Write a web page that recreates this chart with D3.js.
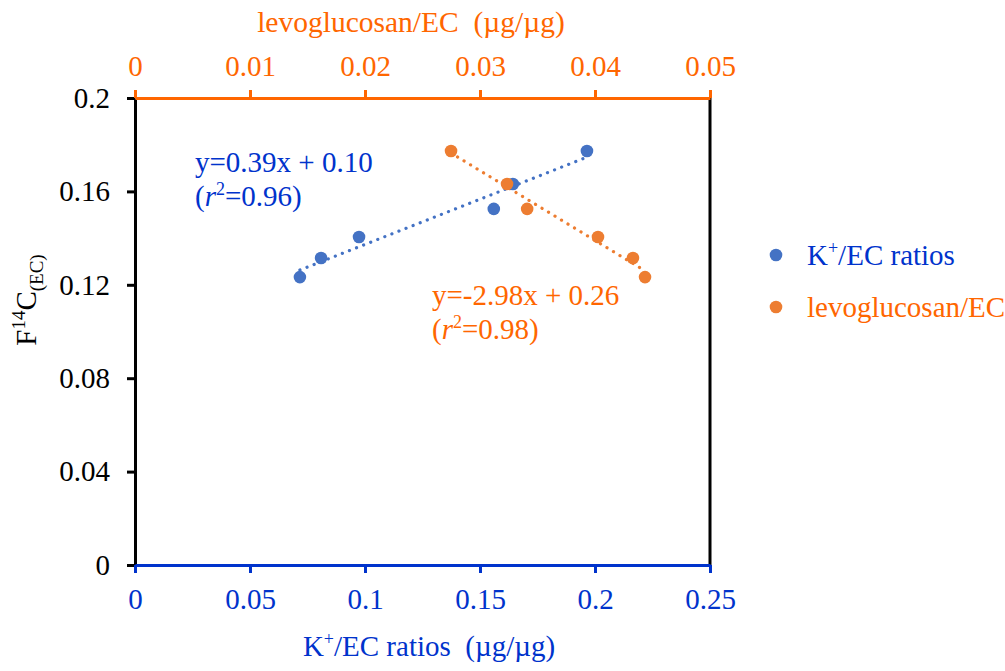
<!DOCTYPE html>
<html>
<head>
<meta charset="utf-8">
<script src="https://cdn.jsdelivr.net/npm/d3@7/dist/d3.min.js"></script>
<style>
  html, body { margin: 0; padding: 0; background: #fff; }
  text { font-family: 'Liberation Serif', 'Times New Roman', 'DejaVu Serif', serif; }
</style>
</head>
<body>
<svg id="chart" width="1005" height="671"></svg>
<script>
// F14C(EC) against two biomass-burning tracer ratios
const f14c = [0.1233, 0.1315, 0.1405, 0.1525, 0.1632, 0.1773];
const kRatio = [0.0717, 0.0809, 0.0974, 0.1560, 0.1643, 0.1965];
const levoRatio = [0.04435, 0.0433, 0.04026, 0.0341, 0.03235, 0.02748];

const kTicks = [0, 0.05, 0.1, 0.15, 0.2, 0.25];
const levoTicks = [0, 0.01, 0.02, 0.03, 0.04, 0.05];
const yTicks = [0, 0.04, 0.08, 0.12, 0.16, 0.2];

const BLUE_MARK = "#4472C4", ORANGE_MARK = "#ED7D31";
const BLUE_TEXT = "#0033CC", ORANGE_TEXT = "#FF6600";
const SERIF = "'Liberation Serif', 'Times New Roman', 'DejaVu Serif', serif";
const FS = 29;

const svg = d3.select("#chart");
const m = { left: 135, right: 710, top: 98, bottom: 565 };

const xK = d3.scaleLinear().domain([0, 0.25]).range([m.left, m.right]);
const xL = d3.scaleLinear().domain([0, 0.05]).range([m.left, m.right]);
const y = d3.scaleLinear().domain([0, 0.2]).range([m.bottom, m.top]);

const fmt = d => d === 0 ? "0" : String(+d.toFixed(3));

function styleAxis(g, color) {
  g.attr("font-family", SERIF).attr("font-size", FS);
  g.select(".domain").attr("stroke", color).attr("stroke-width", 3);
  g.selectAll(".tick line").attr("stroke", color).attr("stroke-width", 3);
  g.selectAll(".tick text").attr("fill", color).attr("font-family", SERIF).attr("font-size", FS);
}

// right frame edge
svg.append("line").attr("x1", m.right).attr("x2", m.right)
  .attr("y1", m.top).attr("y2", m.bottom).attr("stroke", "#000").attr("stroke-width", 3);

// left axis
const gy = svg.append("g").attr("transform", `translate(${m.left},0)`)
  .call(d3.axisLeft(y).tickValues(yTicks).tickFormat(fmt).tickSizeInner(8).tickSizeOuter(0).tickPadding(17));
styleAxis(gy, "#000");

// bottom axis
const gxK = svg.append("g").attr("transform", `translate(0,${m.bottom})`)
  .call(d3.axisBottom(xK).tickValues(kTicks).tickFormat(fmt).tickSizeInner(8).tickSizeOuter(0).tickPadding(15));
styleAxis(gxK, BLUE_TEXT);

// top axis
const gxL = svg.append("g").attr("transform", `translate(0,${m.top})`)
  .call(d3.axisTop(xL).tickValues(levoTicks).tickFormat(fmt).tickSizeInner(8).tickSizeOuter(0).tickPadding(14));
styleAxis(gxL, ORANGE_TEXT);

function txt(parent) {
  return parent.append("text").attr("font-family", SERIF).attr("font-size", FS);
}

// axis titles
const xTitle = txt(svg).attr("x", 429).attr("y", 656)
  .attr("text-anchor", "middle").attr("fill", BLUE_TEXT);
xTitle.append("tspan").text("K");
xTitle.append("tspan").attr("dy", -11).attr("font-size", 18).text("+");
xTitle.append("tspan").attr("dy", 11).text("/EC ratios\u00a0\u00a0(µg/µg)");

txt(svg).attr("x", 411).attr("y", 32)
  .attr("text-anchor", "middle").attr("fill", ORANGE_TEXT).attr("font-size", 29.5)
  .text("levoglucosan/EC\u00a0\u00a0(µg/µg)");

const yTitle = txt(svg)
  .attr("transform", "translate(36,300) rotate(-90)")
  .attr("text-anchor", "middle").attr("fill", "#000");
yTitle.append("tspan").text("F");
yTitle.append("tspan").attr("dy", -11).attr("font-size", 19).text("14");
yTitle.append("tspan").attr("dy", 11).text("C");
yTitle.append("tspan").attr("dy", 7).attr("font-size", 19).text("(EC)");

// least-squares trendline over the range of the data
function fit(xs, ys) {
  const mx = d3.mean(xs), my = d3.mean(ys);
  const sxy = d3.sum(xs, (v, i) => (v - mx) * (ys[i] - my));
  const sxx = d3.sum(xs, v => (v - mx) ** 2);
  const b = sxy / sxx;
  return { b, a: my - b * mx, lo: d3.min(xs), hi: d3.max(xs) };
}

function trend(xs, ys, xScale, color) {
  const f = fit(xs, ys);
  svg.append("line")
    .attr("x1", xScale(f.lo)).attr("y1", y(f.a + f.b * f.lo))
    .attr("x2", xScale(f.hi)).attr("y2", y(f.a + f.b * f.hi))
    .attr("stroke", color).attr("stroke-width", 3.2)
    .attr("stroke-linecap", "round").attr("stroke-dasharray", "0.1 7.5");
}

trend(kRatio, f14c, xK, BLUE_MARK);
trend(levoRatio, f14c, xL, ORANGE_MARK);

// points
svg.append("g").selectAll("circle").data(kRatio).join("circle")
  .attr("cx", d => xK(d)).attr("cy", (d, i) => y(f14c[i])).attr("r", 6.3).attr("fill", BLUE_MARK);
svg.append("g").selectAll("circle").data(levoRatio).join("circle")
  .attr("cx", d => xL(d)).attr("cy", (d, i) => y(f14c[i])).attr("r", 6.3).attr("fill", ORANGE_MARK);

// regression equations
function equation(x, y0, color, eq, r2) {
  txt(svg).attr("x", x).attr("y", y0).attr("fill", color).text(eq);
  const t2 = txt(svg).attr("x", x).attr("y", y0 + 34).attr("fill", color);
  t2.append("tspan").text("(");
  t2.append("tspan").attr("font-style", "italic").text("r");
  t2.append("tspan").attr("dy", -11).attr("font-size", 18).text("2");
  t2.append("tspan").attr("dy", 11).text("=" + r2 + ")");
}
equation(195, 172, BLUE_TEXT, "y=0.39x + 0.10", "0.96");
equation(432, 305, ORANGE_TEXT, "y=-2.98x + 0.26", "0.98");

// legend
const legend = [
  { label: ["K", "+", "/EC ratios"], mark: BLUE_MARK, text: BLUE_TEXT },
  { label: ["levoglucosan/EC"], mark: ORANGE_MARK, text: ORANGE_TEXT }
];
legend.forEach((d, i) => {
  const cy = 255 + i * 52;
  svg.append("circle").attr("cx", 776).attr("cy", cy).attr("r", 6.3).attr("fill", d.mark);
  const t = txt(svg).attr("x", 807).attr("y", cy + 10).attr("fill", d.text);
  if (d.label.length === 3) {
    t.append("tspan").text(d.label[0]);
    t.append("tspan").attr("dy", -11).attr("font-size", 18).text(d.label[1]);
    t.append("tspan").attr("dy", 11).text(d.label[2]);
  } else {
    t.text(d.label[0]);
  }
});
</script>
</body>
</html>
